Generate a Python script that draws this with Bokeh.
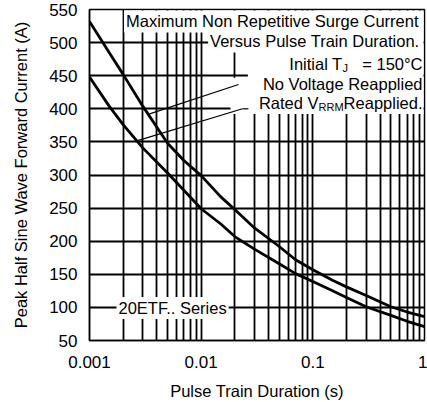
from bokeh.plotting import figure
from bokeh.models import Range1d, FixedTicker, Label, BoxAnnotation
from bokeh.embed import file_html
from bokeh.resources import INLINE

# ---- data ----
pulse_duration = [0.001, 0.0015, 0.002, 0.003, 0.005, 0.007, 0.01, 0.015, 0.02,
                  0.03, 0.05, 0.07, 0.1, 0.15, 0.2, 0.3, 0.5, 0.7, 1.0]
no_voltage_reapplied = [532, 485, 452, 404, 348, 322, 299, 267, 248,
                        220, 192, 172, 157, 141, 131, 118, 101, 93, 86]
rated_vrrm_reapplied = [448, 404, 376, 341, 303, 277, 249, 226, 207,
                        188, 166, 151, 139, 125, 115, 101, 88, 79, 71]

x_ticks = [0.001, 0.01, 0.1, 1.0]
x_tick_labels = ["0.001", "0.01", "0.1", "1"]
x_minor_mult = [2, 3, 4, 5, 6, 7, 8, 9]
y_ticks = [50, 100, 150, 200, 250, 300, 350, 400, 450, 500, 550]

# leader lines (curve point -> label)
leader_x0 = [0.0034, 0.0027, 0.02345]
leader_y0 = [392, 352, 400]
leader_x1 = [0.0216, 0.02345, 0.0265]
leader_y1 = [436.7, 400, 400]

FONT = "Liberation Sans"
FS = "16.5px"

p = figure(width=427, height=402, x_axis_type="log",
           x_range=Range1d(0.001, 1), y_range=Range1d(50, 550),
           output_backend="svg", toolbar_location=None,
           min_border_left=89, min_border_right=3, min_border_top=9, min_border_bottom=62)

p.background_fill_color = "white"
p.border_fill_color = "white"
p.outline_line_color = "black"
p.outline_line_width = 1.5
p.outline_line_alpha = 1.0

minor = [m * t for t in x_ticks[:-1] for m in x_minor_mult]
p.xaxis.ticker = FixedTicker(ticks=x_ticks, minor_ticks=minor)
p.xaxis.major_label_overrides = {t: l for t, l in zip(x_ticks, x_tick_labels)}
p.yaxis.ticker = FixedTicker(ticks=y_ticks)

for ax in (p.xaxis, p.yaxis):
    ax.major_tick_line_color = None
    ax.minor_tick_line_color = None
    ax.axis_line_color = "black"
    ax.axis_line_width = 1.5
    ax.major_label_text_font = FONT
    ax.major_label_text_font_size = "17px"
    ax.major_label_text_color = "black"
    ax.axis_label_text_font = FONT
    ax.axis_label_text_font_size = FS
    ax.axis_label_text_font_style = "normal"
    ax.axis_label_text_color = "black"

p.xaxis.axis_label = "Pulse Train Duration (s)"
p.yaxis.axis_label = "Peak Half Sine Wave Forward Current (A)"
p.xaxis.major_label_standoff = 9
p.xaxis.axis_label_standoff = 11
p.yaxis.major_label_standoff = 6
p.yaxis.axis_label_standoff = 16

p.xgrid.grid_line_color = "black"
p.xgrid.grid_line_width = 1.8
p.xgrid.minor_grid_line_color = "black"
p.xgrid.minor_grid_line_width = 1.8
p.ygrid.grid_line_color = "black"
p.ygrid.grid_line_width = 1.8

# curves
p.line(pulse_duration, no_voltage_reapplied, line_color="black", line_width=2.8)
p.line(pulse_duration, rated_vrrm_reapplied, line_color="black", line_width=2.8)

# white areas behind the annotation block
p.add_layout(BoxAnnotation(left=0.0262, right=0.98, top=547, bottom=446,
                           fill_color="white", fill_alpha=1.0, line_alpha=0))
p.add_layout(BoxAnnotation(left=0.0183, right=0.98, top=447, bottom=392,
                           fill_color="white", fill_alpha=1.0, line_alpha=0))

# leader lines
p.segment(leader_x0, leader_y0, leader_x1, leader_y1, line_color="black",
          line_width=1.2, level="overlay")


def lab(text, x, y, x_offset=0, align="right", size=FS, bg=True):
    kw = dict(x=x, y=y, x_offset=x_offset, text=text, text_align=align,
              text_baseline="middle", text_font=FONT, text_font_size=size,
              text_color="black")
    if bg:
        kw.update(background_fill_color="white", background_fill_alpha=1.0, padding=2)
    p.add_layout(Label(**kw))


lab("Maximum Non Repetitive Surge Current", 1, 531.9, -4)
lab("Versus Pulse Train Duration.", 1, 501.7, -3)
lab("Initial T", 1, 468.4, -82, bg=False)
lab("J", 1, 461.6, -82, align="left", size="11px", bg=False)
lab("= 150°C", 1, 468.4, -2, bg=False)
lab("No Voltage Reapplied", 1, 438.2, -2, bg=False)
lab("Rated V", 1, 409.5, -106, bg=False)
lab("RRM", 1, 402.5, -106, align="left", size="11px", bg=False)
lab("Reapplied.", 1, 409.5, -2, bg=False)
lab("20ETF.. Series", 0.001, 99, 27, align="left")

open("out.html", "w").write(file_html(p, INLINE))
